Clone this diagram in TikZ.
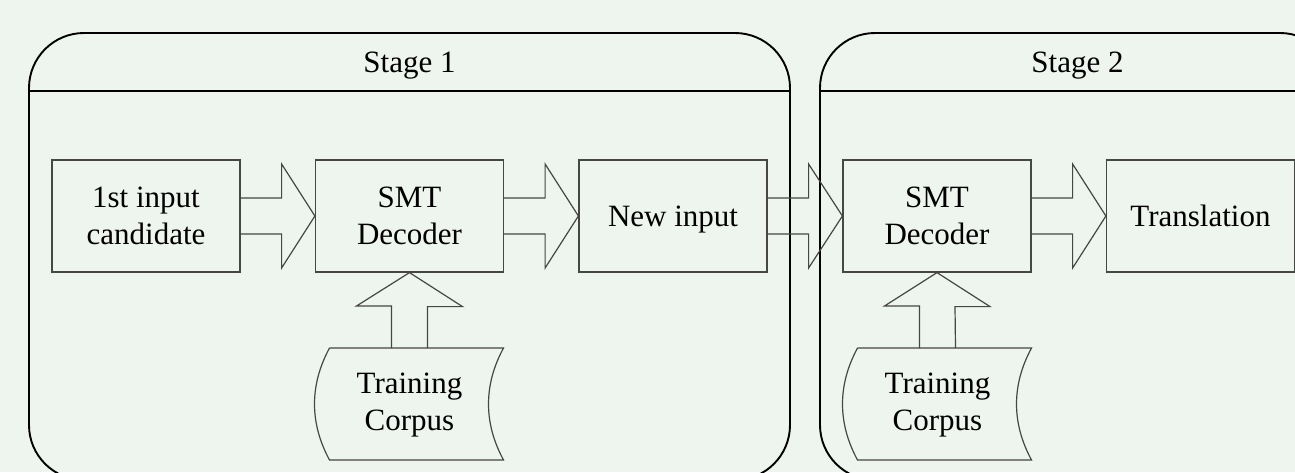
\documentclass[tikz,border=0pt]{standalone}
\usepackage{fontspec}
\setmainfont{Liberation Serif}
\usetikzlibrary{calc}
\definecolor{bg}{RGB}{238,244,238}
\definecolor{boxline}{RGB}{70,70,70}
\tikzset{
  stagebox/.style={draw=black, line width=1.9pt, rounded corners=55pt},
  txt/.style={font=\fontsize{31}{37}\selectfont, text height=20.5pt, text depth=0pt},
  twolines/.style={text height=57.5pt},
  procbox/.style={txt, draw=boxline, line width=1.2pt, minimum width=188pt, minimum height=112pt,
    align=center, inner sep=0pt},
  corpus/.style={txt, align=center, inner sep=0pt},
  stagetitle/.style={txt, inner sep=0pt},
  blockarrow/.style={draw=boxline, line width=1.2pt, line join=miter},
}
% horizontal block arrow from the east side of #1 to the west side of #2
\newcommand{\harrow}[2]{%
  \draw[blockarrow] ($(#1.east)+(0,-18)$) -- ++(41,0) -- ++(0,-34)
    -- (#2.west) -- ($(#1.east)+(41,52)$) -- ++(0,-34) -- ($(#1.east)+(0,18)$);}
% data-store outline around a corpus node
\newcommand{\corpusshape}[1]{%
  \draw[blockarrow] ($(#1)+(-80,-54)$) -- ($(#1)+(94,-54)$)
    .. controls ($(#1)+(74,-17)$) and ($(#1)+(74,21)$) .. ($(#1)+(94,58)$)
    -- ($(#1)+(-80,58)$)
    .. controls ($(#1)+(-100,21)$) and ($(#1)+(-100,-17)$) .. ($(#1)+(-80,-54)$);}
\begin{document}
\begin{tikzpicture}[x=1pt, y=-1pt]
  \fill[bg] (0,0) rectangle (1295,472);
  \useasboundingbox (0,0) rectangle (1295,472);
  \clip (0,0) rectangle (1295,472);

  % stage frames
  \draw[stagebox] (29,33) rectangle (790,480);
  \draw[black, line width=1.9pt] (29,91) -- (790,91);
  \node[stagetitle] (s1) at (409.5,62) {Stage 1};
  \draw[stagebox] (820,33) rectangle (1335,480);
  \draw[black, line width=1.9pt] (820,91) -- (1335,91);
  \node[stagetitle] (s2) at (1077.5,62) {Stage 2};

  % processing boxes
  \node[procbox, twolines] (cand) at (146,216) {1st input\\candidate};
  \node[procbox, twolines] (dec1) at (409.5,216) {SMT\\Decoder};
  \node[procbox] (newin) at (673,216) {New input};
  \node[procbox, twolines] (dec2) at (937,216) {SMT\\Decoder};
  \node[procbox] (trans) at (1200.5,216) {Translation};

  % training corpora
  \node[corpus, twolines] (tc1) at (409.5,402) {Training\\Corpus};
  \corpusshape{tc1}
  \node[corpus, twolines] (tc2) at (937.5,402) {Training\\Corpus};
  \corpusshape{tc2}
  \coordinate (tc1top) at (409.5,348);
  \coordinate (tc2top) at (937.5,348);

  % flow arrows
  \harrow{cand}{dec1}
  \harrow{dec1}{newin}
  \harrow{newin}{dec2}
  \harrow{dec2}{trans}
  \draw[blockarrow] ($(tc1top)+(-18,0)$) -- ++(0,-42) -- ++(-35,0) -- (dec1.south)
    -- ($(dec1.south)+(53,34)$) -- ++(-35,0) -- ($(tc1top)+(18,0)$);
  \draw[blockarrow] ($(tc2top)+(-18,0)$) -- ++(0,-42) -- ++(-35,0) -- (dec2.south)
    -- ($(dec2.south)+(53,34)$) -- ++(-35,0) -- ($(tc2top)+(18,0)$);
\end{tikzpicture}
\end{document}
